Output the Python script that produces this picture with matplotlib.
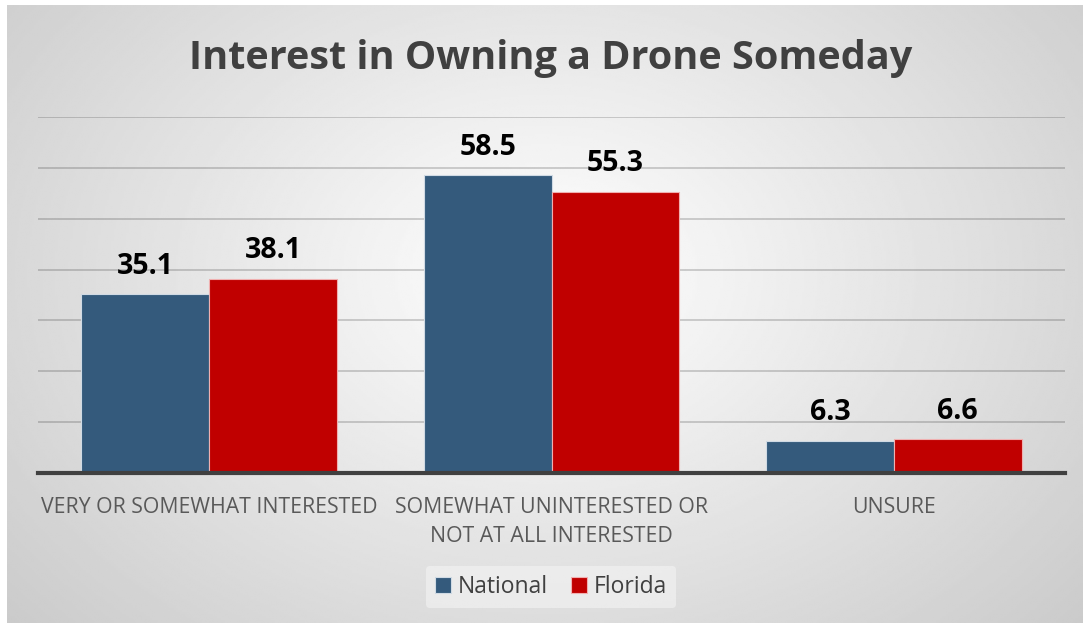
import matplotlib.pyplot as plt
import numpy as np

# data
categories = ['VERY OR SOMEWHAT INTERESTED',
              'SOMEWHAT UNINTERESTED OR\nNOT AT ALL INTERESTED',
              'UNSURE']
national = [35.1, 58.5, 6.3]
florida = [38.1, 55.3, 6.6]

plt.rcParams['font.family'] = ['Open Sans', 'DejaVu Sans']

W, H = 1087, 623
fig = plt.figure(figsize=(W / 100, H / 100), dpi=100)
fig.patch.set_facecolor('white')

# radial gradient background panel
bg = fig.add_axes([7 / W, 0, (1083 - 7) / W, 1 - 5 / H])
yy, xx = np.mgrid[0:300, 0:500]
r = np.sqrt(((xx - 250) / 300.0) ** 2 + ((yy - 130) / 230.0) ** 2)
shade = 1.0 - 0.24 * np.clip(r, 0, 1.3) / 1.3
bg.imshow(shade, cmap='gray', vmin=0, vmax=1, aspect='auto',
          interpolation='bilinear')
bg.set_axis_off()

# bar chart
ax = fig.add_axes([38 / W, 1 - 473 / H, (1065 - 38) / W, (473 - 117) / H])
ax.patch.set_alpha(0)
x = np.arange(len(categories))
width = 0.373
bar1 = ax.bar(x - width / 2, national, width, color='#345a7c',
              edgecolor='#d0dae4', linewidth=0.8, label='National', zorder=3)
bar2 = ax.bar(x + width / 2, florida, width, color='#c00000',
              edgecolor='#f0b0b0', linewidth=0.8, label='Florida', zorder=3)

ax.set_xlim(-0.5, 2.5)
ax.set_ylim(0, 70)
ax.set_yticks(np.arange(0, 71, 10))
ax.set_yticklabels([])
ax.tick_params(axis='y', length=0)
ax.tick_params(axis='x', length=0, pad=17, labelsize=15.3, labelcolor='#595959')
ax.set_xticks(x)
ax.set_xticklabels(categories, linespacing=1.5)
ax.yaxis.grid(True, color='black', alpha=0.22, linewidth=1.1, zorder=0)
for s in ['top', 'right', 'left']:
    ax.spines[s].set_visible(False)
ax.spines['bottom'].set_color('#404040')
ax.spines['bottom'].set_linewidth(3)
ax.spines['bottom'].set_zorder(4)

ax.bar_label(bar1, fmt='%.1f', padding=10, fontsize=20.5, fontweight='bold')
ax.bar_label(bar2, fmt='%.1f', padding=10, fontsize=20.5, fontweight='bold')

fig.text(0.507, 1 - 58 / H, 'Interest in Owning a Drone Someday', ha='center',
         va='center', fontsize=28.5, fontweight='bold', color='#404040')

leg = fig.legend(handles=[bar1, bar2], loc='center', ncol=2,
                 bbox_to_anchor=(551 / W, 1 - 587 / H), frameon=True,
                 fontsize=16.5, handlelength=0.7, handleheight=0.7,
                 handletextpad=0.3, columnspacing=1.0)
leg.get_frame().set_facecolor('#f4f4f4')
leg.get_frame().set_edgecolor('none')
leg.get_frame().set_alpha(0.6)
for t in leg.get_texts():
    t.set_color('#404040')

fig.savefig('out.png', dpi=100)
